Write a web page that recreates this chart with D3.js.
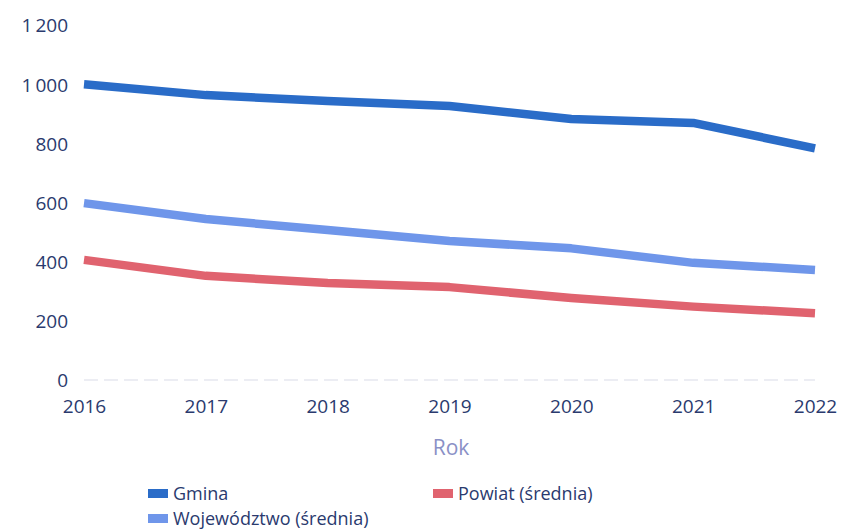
<!DOCTYPE html>
<html><head><meta charset="utf-8">
<script src="https://cdn.jsdelivr.net/npm/d3@7"></script>
<style>body{margin:0;background:#fff}svg{display:block}text{font-family:"Open Sans",sans-serif}</style>
</head><body><svg id="c" width="843" height="530"></svg>
<script>
const years = [2016, 2017, 2018, 2019, 2020, 2021, 2022];
const gmina = [1000, 963, 943, 926, 882, 869, 783];
const wojewodztwo = [598, 544, 507, 470, 445, 396, 372];
const powiat = [406, 352, 328, 314, 277, 248, 226];
const yTicks = [0, 200, 400, 600, 800, 1000, 1200];
const seriesNames = ["Gmina", "Powiat (średnia)", "Województwo (średnia)"];
const colors = ["#2a6cc8", "#e0636f", "#6f96ea"];

const svg = d3.select("#c");
const x = d3.scaleLinear().domain([2016, 2022]).range([84, 815]);
const y = d3.scaleLinear().domain([0, 1200]).range([380, 25]);
const txt = "#2a3a6e";

// zero line
svg.append("line").attr("x1", 84).attr("x2", 815).attr("y1", y(0)).attr("y2", y(0))
  .attr("stroke", "#e6e8f0").attr("stroke-width", 1.5).attr("stroke-dasharray", "14,6");

const fmt = v => d3.format(",")(v).replace(",", "\u2009");
const yAxis = d3.axisLeft(y).tickValues(yTicks).tickSize(0).tickPadding(0).tickFormat(fmt);
const gy = svg.append("g").attr("transform", "translate(68,0)").call(yAxis);
gy.select(".domain").remove();
gy.selectAll("text").attr("fill", txt).style("font-size", "19px").attr("dy", "0.36em");

const xAxis = d3.axisBottom(x).tickValues(years).tickSize(0).tickPadding(0).tickFormat(d3.format("d"));
const gx = svg.append("g").attr("transform", "translate(0,413)").call(xAxis);
gx.select(".domain").remove();
gx.selectAll("text").attr("fill", txt).style("font-size", "19px").attr("dy", "0");

svg.append("text").attr("x", 451).attr("y", 455).attr("text-anchor", "middle")
  .attr("fill", "#8a90c6").style("font-size", "21px").text("Rok");

const line = d3.line().x((d, i) => x(years[i])).y(d => y(d));
[[wojewodztwo, colors[2]], [powiat, colors[1]], [gmina, colors[0]]].forEach(([data, c]) => {
  svg.append("path").datum(data).attr("d", line).attr("fill", "none")
    .attr("stroke", c).attr("stroke-width", 8.5).attr("stroke-linejoin", "round");
});

const legend = [
  {name: seriesNames[0], color: colors[0], x: 148, y: 493},
  {name: seriesNames[1], color: colors[1], x: 433, y: 493},
  {name: seriesNames[2], color: colors[2], x: 148, y: 518}
];
legend.forEach(l => {
  svg.append("rect").attr("x", l.x).attr("y", l.y - 4).attr("width", 20).attr("height", 9).attr("fill", l.color);
  svg.append("text").attr("x", l.x + 25).attr("y", l.y + 7)
    .attr("fill", txt).style("font-size", "18px").text(l.name);
});
</script></body></html>
